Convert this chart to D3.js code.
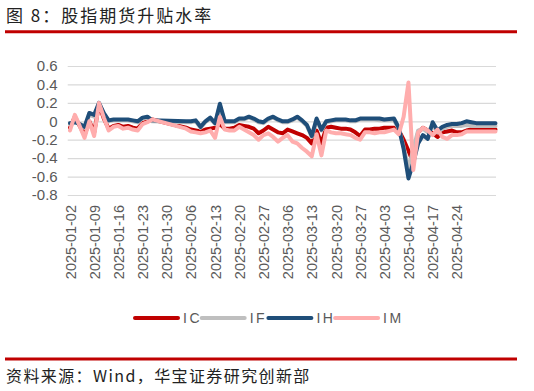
<html>
  <head>
    <meta charset="utf-8">
    <script src="https://cdn.jsdelivr.net/npm/d3@7"></script>
  </head>
  <style type="text/css">
    body { margin: 0; background: #fff; }
    svg { font-family: "Liberation Sans", Arial, sans-serif; }
    .grid line { stroke: #d9d9d9; stroke-width: 1.2; }
    .axis text { fill: #595959; font-size: 14px; }
    .line { fill: none; stroke-width: 4; stroke-linejoin: round; stroke-linecap: round; }
    .cjk { font-family: "Noto Sans CJK SC", sans-serif; }
  </style>
  <body>
    <div id="chart"></div>
  </body>
  <script type="text/javascript">
    // weekdays, holidays left as null
    var dates = [
      "2025-01-02","2025-01-03","2025-01-06","2025-01-07","2025-01-08","2025-01-09","2025-01-10",
      "2025-01-13","2025-01-14","2025-01-15","2025-01-16","2025-01-17","2025-01-20","2025-01-21",
      "2025-01-22","2025-01-23","2025-01-24","2025-01-27","2025-01-28","2025-01-29","2025-01-30",
      "2025-01-31","2025-02-03","2025-02-04","2025-02-05","2025-02-06","2025-02-07","2025-02-10",
      "2025-02-11","2025-02-12","2025-02-13","2025-02-14","2025-02-17","2025-02-18","2025-02-19",
      "2025-02-20","2025-02-21","2025-02-24","2025-02-25","2025-02-26","2025-02-27","2025-02-28",
      "2025-03-03","2025-03-04","2025-03-05","2025-03-06","2025-03-07","2025-03-10","2025-03-11",
      "2025-03-12","2025-03-13","2025-03-14","2025-03-17","2025-03-18","2025-03-19","2025-03-20",
      "2025-03-21","2025-03-24","2025-03-25","2025-03-26","2025-03-27","2025-03-28","2025-03-31",
      "2025-04-01","2025-04-02","2025-04-03","2025-04-04","2025-04-07","2025-04-08","2025-04-09",
      "2025-04-10","2025-04-11","2025-04-14","2025-04-15","2025-04-16","2025-04-17","2025-04-18",
      "2025-04-21","2025-04-22","2025-04-23","2025-04-24","2025-04-25","2025-04-28","2025-04-29",
      "2025-04-30","2025-05-01","2025-05-02","2025-05-05","2025-05-06"
    ];

    var IC = [
      -0.07, 0.05, -0.05, -0.15, 0.00, -0.12, 0.18,
      0.03, -0.08, -0.05, -0.04, -0.06, -0.05, -0.07,
      -0.08, -0.02, 0.00, 0.02, null, null, null,
      null, null, null, -0.07, -0.09, -0.10, -0.11,
      -0.09, -0.08, -0.07, -0.03, -0.08, -0.08, -0.07,
      -0.04, -0.05, -0.06, -0.08, -0.13, -0.10, -0.06,
      -0.09, -0.12, -0.13, -0.09, -0.11, -0.13, -0.15,
      -0.18, -0.24, -0.10, -0.24, -0.07, -0.06, -0.07,
      -0.08, -0.08, -0.09, -0.12, -0.16, -0.09, -0.09,
      -0.08, -0.08, -0.07, null, -0.07, -0.10, -0.20,
      -0.32, -0.45, -0.12, -0.07, -0.10, -0.13, -0.17,
      -0.12, -0.11, -0.10, -0.12, -0.12, -0.10, -0.09,
      -0.09, null, null, null, -0.09
    ];

    var IF = [
      -0.03, 0.00, -0.03, -0.07, 0.07, 0.05, 0.19,
      0.07, 0.00, 0.01, 0.01, 0.01, 0.01, 0.00,
      -0.01, 0.03, 0.04, 0.00, null, null, null,
      null, null, null, -0.01, -0.01, 0.00, -0.07,
      -0.01, 0.03, -0.03, 0.17, -0.01, -0.01, -0.01,
      0.02, 0.02, 0.04, 0.02, -0.01, -0.02, 0.02,
      0.04, 0.01, -0.01, -0.01, 0.01, 0.04, 0.00,
      -0.05, -0.17, 0.01, -0.10, -0.01, 0.00, 0.01,
      0.01, 0.01, 0.00, 0.00, 0.02, 0.02, 0.02,
      0.02, 0.01, 0.01, null, 0.01, -0.08, -0.28,
      -0.52, -0.30, -0.10, -0.08, -0.12, -0.04, -0.12,
      -0.08, -0.06, -0.05, -0.05, -0.05, -0.04, -0.05,
      -0.05, null, null, null, -0.05
    ];

    var IH = [
      -0.02, -0.01, -0.03, -0.06, 0.09, 0.07, 0.20,
      0.09, 0.01, 0.02, 0.02, 0.02, 0.02, 0.01,
      0.00, 0.04, 0.05, 0.01, null, null, null,
      null, null, null, 0.00, 0.00, 0.01, -0.06,
      0.00, 0.04, -0.02, 0.19, 0.00, 0.00, 0.00,
      0.03, 0.03, 0.05, 0.03, 0.00, -0.01, 0.03,
      0.05, 0.02, 0.00, 0.00, 0.02, 0.05, 0.01,
      -0.04, -0.16, 0.03, -0.09, 0.00, 0.01, 0.02,
      0.02, 0.02, 0.01, 0.01, 0.03, 0.03, 0.03,
      0.03, 0.03, 0.02, null, 0.03, -0.07, -0.30,
      -0.62, -0.45, -0.24, -0.15, -0.19, -0.01, -0.10,
      -0.06, -0.04, -0.03, -0.03, -0.02, 0.00, -0.01,
      -0.02, null, null, null, -0.02
    ];

    var IM = [
      -0.10, 0.07, -0.05, -0.18, 0.00, -0.16, 0.20,
      0.04, -0.10, -0.06, -0.05, -0.08, -0.07, -0.09,
      -0.10, -0.03, -0.01, 0.02, null, null, null,
      null, null, null, -0.08, -0.11, -0.12, -0.13,
      -0.12, -0.10, -0.18, 0.05, -0.09, -0.10, -0.10,
      -0.06, -0.09, -0.12, -0.15, -0.20, -0.15, -0.13,
      -0.17, -0.22, -0.18, -0.15, -0.22, -0.24, -0.29,
      -0.33, -0.38, -0.14, -0.37, -0.10, -0.12, -0.13,
      -0.13, -0.14, -0.15, -0.18, -0.20, -0.12, -0.12,
      -0.13, -0.12, -0.12, null, -0.09, -0.14, 0.05,
      0.42, -0.53, -0.12, -0.07, -0.10, -0.15, -0.09,
      -0.17, -0.19, -0.15, -0.15, -0.14, -0.11, -0.11,
      -0.11, null, null, null, -0.11
    ];

    var seriesNames = ["IC", "IF", "IH", "IM"];
    var seriesColors = ["#c00000", "#bfbfbf", "#1f4e79", "#ffadad"];
    var yTicks = [0.6, 0.4, 0.2, 0, -0.2, -0.4, -0.6, -0.8];
    var xTickLabels = [
      "2025-01-02","2025-01-09","2025-01-16","2025-01-23","2025-01-30","2025-02-06",
      "2025-02-13","2025-02-20","2025-02-27","2025-03-06","2025-03-13","2025-03-20",
      "2025-03-27","2025-04-03","2025-04-10","2025-04-17","2025-04-24"
    ];

    var width = 534;
    var height = 391;
    var plotLeft = 67.7, plotRight = 496, plotTop = 66, plotBottom = 195;

    var data = [IC, IF, IH, IM].map(function(vals, i) {
      return {
        name: seriesNames[i],
        color: seriesColors[i],
        values: vals.map(function(v, j) { return {date: dates[j], value: v}; })
          .filter(function(d) { return d.value !== null; })
      };
    });

    /* Scale */
    var xScale = d3.scalePoint()
      .domain(dates)
      .range([70, 495.5]);

    var yScale = d3.scaleLinear()
      .domain([-0.8, 0.6])
      .range([plotBottom, plotTop]);

    /* Add SVG */
    var svg = d3.select("#chart").append("svg")
      .attr("width", width)
      .attr("height", height);

    // title + red rules
    svg.append("text")
      .attr("class", "cjk")
      .attr("x", 6)
      .attr("y", 22)
      .attr("fill", "#222")
      .style("font-size", "17px")
      .style("letter-spacing", "2px")
      .text("图 8：股指期货升贴水率");

    svg.append("line")
      .attr("x1", 5).attr("x2", 517)
      .attr("y1", 31.7).attr("y2", 31.7)
      .attr("stroke", "#c00000")
      .attr("stroke-width", 3);

    svg.append("line")
      .attr("x1", 5).attr("x2", 517)
      .attr("y1", 359).attr("y2", 359)
      .attr("stroke", "#c00000")
      .attr("stroke-width", 3);

    svg.append("text")
      .attr("class", "cjk")
      .attr("x", 6)
      .attr("y", 382)
      .attr("fill", "#222")
      .style("font-size", "16px")
      .style("letter-spacing", "1.4px")
      .text("资料来源：Wind，华宝证券研究创新部");

    /* grid */
    svg.append("g")
      .attr("class", "grid")
      .attr("transform", "translate(" + plotLeft + ",0)")
      .call(d3.axisLeft(yScale).tickValues(yTicks).tickSize(-(plotRight - plotLeft)).tickFormat(""))
      .call(function(g) { g.select(".domain").remove(); });

    /* y axis labels */
    svg.append("g")
      .attr("class", "y axis")
      .attr("transform", "translate(" + plotLeft + ",0)")
      .call(d3.axisLeft(yScale).tickValues(yTicks).tickSize(0).tickPadding(10)
        .tickFormat(function(d) { return d === 0 ? "0" : d.toFixed(1); }))
      .call(function(g) { g.select(".domain").remove(); })
      .selectAll("text")
      .style("font-size", "15px");

    /* x axis labels */
    svg.append("g")
      .attr("class", "x axis")
      .attr("transform", "translate(0," + plotBottom + ")")
      .call(d3.axisBottom(xScale).tickValues(xTickLabels).tickSize(0))
      .call(function(g) { g.select(".domain").remove(); })
      .selectAll("text")
      .attr("text-anchor", "end")
      .attr("transform", "translate(0,10) rotate(-90)")
      .attr("x", 0)
      .attr("y", 0)
      .attr("dy", "0.35em")
      .style("font-size", "14.5px");

    /* lines */
    var line = d3.line()
      .x(function(d) { return xScale(d.date); })
      .y(function(d) { return yScale(d.value); });

    svg.append("defs").append("clipPath")
      .attr("id", "plot-clip")
      .append("rect")
      .attr("x", plotLeft - 2).attr("y", 0)
      .attr("width", plotRight - plotLeft + 4).attr("height", height);

    svg.append("g")
      .attr("class", "lines")
      .attr("clip-path", "url(#plot-clip)")
      .selectAll(".line")
      .data(data).enter()
      .append("path")
      .attr("class", "line")
      .attr("d", function(d) { return line(d.values); })
      .style("stroke", function(d) { return d.color; });

    /* legend */
    var legend = svg.append("g")
      .attr("class", "legend")
      .selectAll("g")
      .data(data).enter()
      .append("g")
      .attr("transform", function(d, i) { return "translate(" + (135 + i * 66.7) + ",318)"; });

    legend.append("line")
      .attr("x1", 0).attr("x2", 43)
      .attr("y1", 0).attr("y2", 0)
      .attr("stroke", function(d) { return d.color; })
      .attr("stroke-width", 4)
      .attr("stroke-linecap", "round");

    legend.append("text")
      .attr("x", 48)
      .attr("y", 0)
      .attr("dy", "0.36em")
      .attr("fill", "#595959")
      .style("font-size", "14px")
      .style("letter-spacing", "2.5px")
      .text(function(d) { return d.name; });
  </script>
</html>
